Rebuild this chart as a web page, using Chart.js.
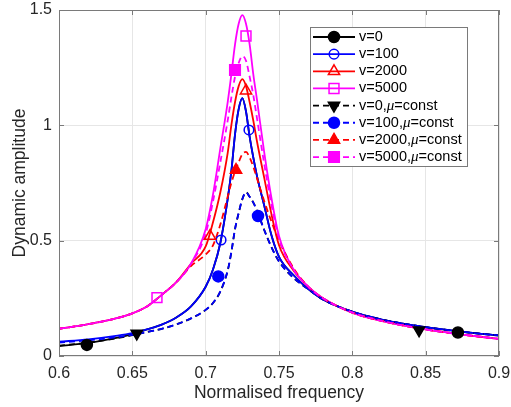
<!DOCTYPE html>
<html><head><meta charset="utf-8">
<script src="https://cdn.jsdelivr.net/npm/chart.js@4"></script>
<style>html,body{margin:0;padding:0;background:#fff;}#c{display:block;}</style>
</head><body>
<canvas id="c" width="511" height="407"></canvas>
<script>
// ---- data ----
const freq = [0.60, 0.62, 0.64, 0.65, 0.66, 0.67, 0.68, 0.69, 0.70, 0.705, 0.71, 0.715, 0.7175, 0.72, 0.7225, 0.725, 0.7275, 0.73, 0.7325, 0.735, 0.74, 0.745, 0.75, 0.76, 0.77, 0.78, 0.80, 0.82, 0.85, 0.875, 0.90];
const ampV0      = [0.043, 0.057, 0.080, 0.095, 0.115, 0.136, 0.167, 0.215, 0.30, 0.375, 0.49, 0.68, 0.80, 0.96, 1.07, 1.118, 1.06, 0.95, 0.86, 0.78, 0.65, 0.52, 0.43, 0.35, 0.29, 0.245, 0.192, 0.158, 0.125, 0.105, 0.089];
const ampV100    = [0.062, 0.072, 0.088, 0.099, 0.115, 0.136, 0.167, 0.215, 0.30, 0.375, 0.49, 0.68, 0.80, 0.96, 1.07, 1.118, 1.06, 0.95, 0.86, 0.78, 0.65, 0.52, 0.43, 0.35, 0.29, 0.245, 0.192, 0.158, 0.125, 0.105, 0.089];
const ampV2000   = [0.118, 0.138, 0.165, 0.185, 0.215, 0.265, 0.32, 0.40, 0.475, 0.58, 0.71, 0.88, 1.00, 1.10, 1.17, 1.20, 1.17, 1.10, 1.02, 0.93, 0.77, 0.61, 0.48, 0.37, 0.30, 0.25, 0.188, 0.152, 0.115, 0.093, 0.074];
const ampV5000   = [0.118, 0.138, 0.165, 0.185, 0.215, 0.265, 0.32, 0.40, 0.55, 0.70, 0.90, 1.10, 1.22, 1.35, 1.44, 1.478, 1.44, 1.35, 1.22, 1.11, 0.88, 0.68, 0.52, 0.375, 0.30, 0.25, 0.188, 0.152, 0.115, 0.093, 0.074];
const ampV0mu    = [0.045, 0.058, 0.078, 0.090, 0.104, 0.118, 0.137, 0.163, 0.20, 0.23, 0.28, 0.37, 0.45, 0.55, 0.62, 0.68, 0.71, 0.69, 0.665, 0.63, 0.545, 0.47, 0.41, 0.338, 0.29, 0.245, 0.192, 0.158, 0.125, 0.105, 0.089];
const ampV100mu  = [0.058, 0.068, 0.082, 0.092, 0.104, 0.118, 0.137, 0.163, 0.20, 0.23, 0.28, 0.37, 0.45, 0.55, 0.62, 0.68, 0.71, 0.69, 0.665, 0.63, 0.545, 0.47, 0.41, 0.338, 0.29, 0.245, 0.192, 0.158, 0.125, 0.105, 0.089];
const ampV2000mu = [0.118, 0.138, 0.165, 0.185, 0.215, 0.265, 0.32, 0.39, 0.44, 0.48, 0.57, 0.69, 0.75, 0.80, 0.84, 0.875, 0.885, 0.86, 0.82, 0.77, 0.67, 0.58, 0.50, 0.38, 0.30, 0.25, 0.188, 0.152, 0.115, 0.093, 0.074];
const ampV5000mu = [0.118, 0.138, 0.165, 0.185, 0.215, 0.265, 0.32, 0.40, 0.53, 0.67, 0.84, 1.02, 1.12, 1.21, 1.27, 1.30, 1.28, 1.21, 1.13, 1.03, 0.83, 0.65, 0.51, 0.375, 0.30, 0.25, 0.188, 0.152, 0.115, 0.093, 0.074];

const mkFreqV0 = [0.619, 0.872],       mkAmpV0 = [0.048, 0.102];
const mkFreqV100 = [0.7105, 0.7295],   mkAmpV100 = [0.503, 0.98];
const mkFreqV2000 = [0.703, 0.7275],   mkAmpV2000 = [0.52, 1.15];
const mkFreqV5000 = [0.6668, 0.7275],  mkAmpV5000 = [0.253, 1.387];
const mkFreqV0mu = [0.653, 0.8455],    mkAmpV0mu = [0.098, 0.112];
const mkFreqV100mu = [0.7086, 0.7357], mkAmpV100mu = [0.345, 0.607];
const mkFreqV2000mu = [0.7207],        mkAmpV2000mu = [0.806];
const mkFreqV5000mu = [0.72],          mkAmpV5000mu = [1.24];

const xTicks = [0.6, 0.65, 0.7, 0.75, 0.8, 0.85, 0.9];
const yTicks = [0, 0.5, 1, 1.5];
const labels = ['v=0', 'v=100', 'v=2000', 'v=5000', 'v=0,μ=const', 'v=100,μ=const', 'v=2000,μ=const', 'v=5000,μ=const'];

// ---- styles ----
const FONT = "'Liberation Sans', Arial, sans-serif";
const AREA = {left: 59, right: 499, top: 10, bottom: 356};
const series = [
  {amp: ampV0,      mx: mkFreqV0,      my: mkAmpV0,      color: '#000000', dash: [],     style: 'circle',   rot: 0,   r: 5.5, filled: true},
  {amp: ampV100,    mx: mkFreqV100,    my: mkAmpV100,    color: '#0000ff', dash: [],     style: 'circle',   rot: 0,   r: 4.8, filled: false},
  {amp: ampV2000,   mx: mkFreqV2000,   my: mkAmpV2000,   color: '#ff0000', dash: [],     style: 'triangle', rot: 0,   r: 6.5, filled: false},
  {amp: ampV5000,   mx: mkFreqV5000,   my: mkAmpV5000,   color: '#ff00ff', dash: [],     style: 'rect',     rot: 0,   r: 7,   filled: false},
  {amp: ampV0mu,    mx: mkFreqV0mu,    my: mkAmpV0mu,    color: '#000000', dash: [6, 4], style: 'triangle', rot: 180, r: 6.5, filled: true},
  {amp: ampV100mu,  mx: mkFreqV100mu,  my: mkAmpV100mu,  color: '#0000ff', dash: [6, 4], style: 'circle',   rot: 0,   r: 5.5, filled: true},
  {amp: ampV2000mu, mx: mkFreqV2000mu, my: mkAmpV2000mu, color: '#ff0000', dash: [6, 4], style: 'triangle', rot: 0,   r: 6.5, filled: true},
  {amp: ampV5000mu, mx: mkFreqV5000mu, my: mkAmpV5000mu, color: '#ff00ff', dash: [6, 4], style: 'rect',     rot: 0,   r: 7.5, filled: true}
];
const datasets = [];
series.forEach((s, i) => {
  datasets.push({
    label: labels[i],
    data: freq.map((f, k) => ({x: f, y: s.amp[k]})),
    borderColor: s.color, borderWidth: 1.8, borderDash: s.dash,
    pointRadius: 0, cubicInterpolationMode: 'monotone', fill: false,
    order: 100 - i
  });
});
series.forEach((s, i) => {
  datasets.push({
    label: labels[i] + ' markers',
    data: s.mx.map((f, k) => ({x: f, y: s.my[k]})),
    showLine: false,
    pointStyle: s.style, pointRotation: s.rot, pointRadius: s.r, pointHoverRadius: s.r,
    pointBackgroundColor: s.filled ? s.color : 'rgba(0,0,0,0)',
    pointBorderColor: s.color, pointBorderWidth: 1.5,
    order: 50 - i
  });
});

const framePlugin = {
  id: 'frame',
  afterDatasetsDraw(chart) {
    const {ctx, chartArea: a, scales: {x, y}} = chart;
    ctx.save();
    ctx.strokeStyle = '#7a7a7a';
    ctx.lineWidth = 1;
    ctx.setLineDash([]);
    ctx.beginPath();
    xTicks.forEach(v => {
      const p = Math.round(x.getPixelForValue(v)) + 0.5;
      ctx.moveTo(p, a.bottom); ctx.lineTo(p, a.bottom - 5);
      ctx.moveTo(p, a.top); ctx.lineTo(p, a.top + 5);
    });
    yTicks.forEach(v => {
      const p = Math.round(y.getPixelForValue(v)) + 0.5;
      ctx.moveTo(a.left, p); ctx.lineTo(a.left + 5, p);
      ctx.moveTo(a.right, p); ctx.lineTo(a.right - 5, p);
    });
    ctx.stroke();
    ctx.strokeRect(Math.round(a.left) + 0.5, Math.round(a.top) + 0.5, Math.round(a.width) - 1, Math.round(a.height) - 1);
    ctx.restore();
  },
  afterDraw(chart) {
    const ctx = chart.ctx;
    const bx = 310, by = 27, bw = 157, bh = 139;
    ctx.save();
    ctx.fillStyle = '#ffffff';
    ctx.fillRect(bx, by, bw, bh);
    ctx.strokeStyle = '#7a7a7a';
    ctx.lineWidth = 1;
    ctx.strokeRect(bx + 0.5, by + 0.5, bw, bh);
    const rowH = 17.15;
    series.forEach((s, i) => {
      const cy = by + 10 + i * rowH;
      ctx.strokeStyle = s.color;
      ctx.lineWidth = 1.8;
      ctx.setLineDash(s.dash);
      ctx.beginPath(); ctx.moveTo(313, cy); ctx.lineTo(355, cy); ctx.stroke();
      ctx.setLineDash([]);
      ctx.fillStyle = s.filled ? s.color : 'rgba(0,0,0,0)';
      ctx.lineWidth = 1.5;
      Chart.helpers.drawPoint(ctx, {pointStyle: s.style, rotation: s.rot, radius: s.r, borderWidth: 1.5}, 334, cy);
      ctx.fillStyle = '#000000';
      ctx.textBaseline = 'middle';
      ctx.textAlign = 'left';
      const txt = labels[i];
      let tx = 359;
      const idx = txt.indexOf('μ');
      if (idx < 0) {
        ctx.font = '14.5px ' + FONT;
        ctx.fillText(txt, tx, cy);
      } else {
        const parts = [[txt.slice(0, idx), '14.5px ' + FONT], ['μ', 'italic 15px "Liberation Serif", "Times New Roman", serif'], [txt.slice(idx + 1), '14.5px ' + FONT]];
        parts.forEach(([t, f]) => {
          ctx.font = f;
          ctx.fillText(t, tx, cy);
          tx += ctx.measureText(t).width;
        });
      }
    });
    ctx.restore();
  }
};

const chart = new Chart(document.getElementById('c'), {
  type: 'line',
  data: {datasets},
  options: {
    responsive: false,
    animation: false,
    devicePixelRatio: 1,
    layout: {padding: {left: 0, right: 12, top: 10, bottom: 0}},
    plugins: {legend: {display: false}, tooltip: {enabled: false}},
    elements: {line: {borderCapStyle: 'butt'}},
    scales: {
      x: {
        type: 'linear', min: 0.6, max: 0.9,
        afterBuildTicks: s => { s.ticks = xTicks.map(v => ({value: v})); },
        afterFit: s => { s.height = 51; s.paddingLeft = 0; s.paddingRight = 0; },
        grid: {color: '#e6e6e6', drawTicks: false},
        border: {display: false},
        ticks: {padding: 8, color: '#262626', font: {family: FONT, size: 16}, maxRotation: 0,
                callback: v => String(Math.round(v * 100) / 100)},
        title: {display: true, text: 'Normalised frequency', color: '#262626',
                font: {family: FONT, size: 17.5}, padding: {top: 0, bottom: 3.5}}
      },
      y: {
        type: 'linear', min: 0, max: 1.5,
        afterBuildTicks: s => { s.ticks = yTicks.map(v => ({value: v})); },
        afterFit: s => { s.width = 59; s.paddingTop = 0; s.paddingBottom = 0; },
        grid: {color: '#e6e6e6', drawTicks: false},
        border: {display: false},
        ticks: {padding: 7, color: '#262626', font: {family: FONT, size: 16},
                callback: v => String(v)},
        title: {display: true, text: 'Dynamic amplitude', color: '#262626',
                font: {family: FONT, size: 17.5}, padding: {top: 9.5, bottom: 0}}
      }
    }
  },
  plugins: [framePlugin]
});
</script>
</body></html>
